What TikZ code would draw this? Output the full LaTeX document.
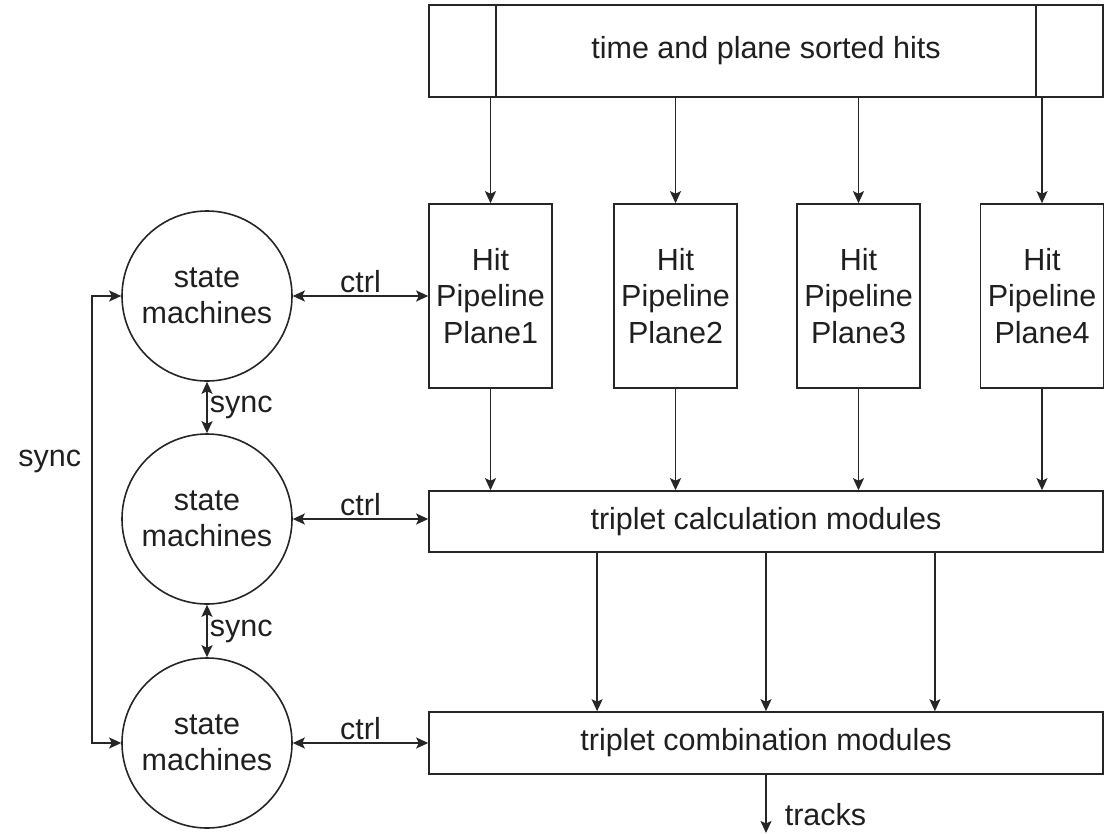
\documentclass[tikz,border=0pt]{standalone}
\usepackage{fontspec}
\setmainfont{Liberation Sans}
\usetikzlibrary{arrows.meta,calc}
\begin{document}
\begin{tikzpicture}[x=1pt,y=-1pt,
  font=\fontsize{30.5}{36.5}\selectfont,
  line width=1.6pt,
  every node/.style={text=black!88},
  block/.style={draw=black!85, fill=white, inner sep=0pt, align=center},
  sm/.style={draw=black!85, circle, minimum size=170pt, inner sep=0pt, align=center},
  arr/.style={-{Stealth[length=12pt,width=11pt,inset=2.5pt]}, draw=black!85},
  darr/.style={{Stealth[length=12pt,width=11pt,inset=2.5pt]}-{Stealth[length=12pt,width=11pt,inset=2.5pt]}, draw=black!85},
  lbl/.style={inner sep=2pt}
]
\useasboundingbox (0,0) rectangle (1108,833);

% input buffer with side bars
\node[block, minimum width=674pt, minimum height=92pt] (hits) at (766,51) {time and plane sorted hits};
\draw[black!85] ([xshift=68pt]hits.north west) -- ([xshift=68pt]hits.south west);
\draw[black!85] ([xshift=-68pt]hits.north east) -- ([xshift=-68pt]hits.south east);

% hit pipelines, one per plane
\foreach \i/\x in {1/490.5, 2/675.5, 3/858.5, 4/1042} {
  \node[block, minimum width=123pt, minimum height=184pt] (hp\i) at (\x,296) {Hit\\Pipeline\\Plane\i};
  \draw[arr] (hits.south -| hp\i) -- (hp\i.north);
}

% triplet stages
\node[block, minimum width=674pt, minimum height=61pt] (calc) at (766,521.5) {triplet calculation modules};
\node[block, minimum width=674pt, minimum height=62pt] (comb) at (766,743) {triplet combination modules};

\foreach \i in {1,...,4} {
  \draw[arr] (hp\i.south) -- (hp\i.south |- calc.north);
}
\foreach \f in {0.25,0.5,0.75} {
  \draw[arr] ($(calc.south west)!\f!(calc.south east)$) -- ($(comb.north west)!\f!(comb.north east)$);
}

% output
\coordinate (out) at (766,833);
\draw[arr] (comb.south) -- (out);
\node[lbl, anchor=west] at (782,815) {tracks};

% state machines
\node[sm] (s1) at (207,296) {state\\machines};
\node[sm] (s2) at (207,519) {state\\machines};
\node[sm] (s3) at (207,743) {state\\machines};

\draw[darr] (s1.east) -- node[lbl, above] {ctrl} (s1.east -| hp1.west);
\draw[darr] (s2.east) -- node[lbl, above] {ctrl} (s2.east -| calc.west);
\draw[darr] (s3.east) -- node[lbl, above] {ctrl} (s3.east -| comb.west);

\draw[darr] (s1.south) -- node[lbl, right] {sync} (s2.north);
\draw[darr] (s2.south) -- node[lbl, right] {sync} (s3.north);

\coordinate (loopT) at (92,296);
\coordinate (loopB) at (92,743);
\draw[darr] (s1.west) -- (loopT) -- node[lbl, left, xshift=-8pt, pos=0.37] {sync} (loopB) -- (s3.west);
\end{tikzpicture}
\end{document}
